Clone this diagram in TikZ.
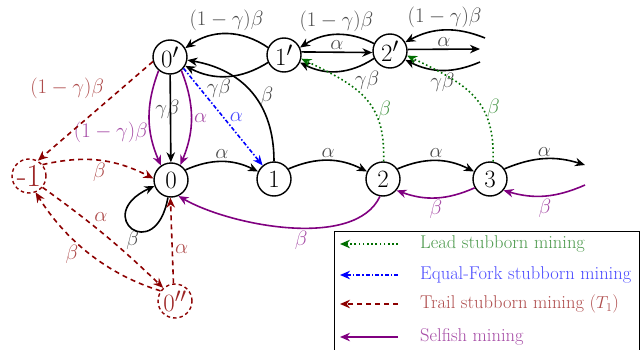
\documentclass[tikz,border=0pt]{standalone}
\usetikzlibrary{arrows.meta}
\definecolor{dgreen}{RGB}{0,110,0}
\definecolor{dred}{RGB}{140,0,0}
\definecolor{mpurple}{RGB}{128,0,128}
\definecolor{mblue}{RGB}{0,0,255}
\begin{document}
\begin{tikzpicture}[x=1pt,y=1pt,
  st/.style={circle,draw,line width=1.4pt,minimum size=34pt,inner sep=0pt,font=\fontsize{32}{32}\selectfont},
  dst/.style={st,draw=dred,dash pattern=on 3.5pt off 3pt,text=dred,text opacity=0.85},
  ed/.style={line width=1.6pt,-{Stealth[length=10pt,width=8.5pt]}},
  ged/.style={ed,dgreen,dash pattern=on 1.6pt off 2.6pt},
  bed/.style={ed,mblue,dash pattern=on 4pt off 2pt on 1.5pt off 2pt},
  ted/.style={ed,dred,dash pattern=on 5pt off 4pt},
  ped/.style={ed,mpurple},
  lab/.style={font=\fontsize{19.5}{19.5}\selectfont,text opacity=0.7,inner sep=2pt},
  leg/.style={anchor=west,font=\fontsize{18.5}{18.5}\selectfont,text opacity=0.7,inner sep=0pt}]
\useasboundingbox (0,0) rectangle (642,349);

% states
\node[st] (n0p) at (170,292) {$0'$};
\node[st] (n1p) at (284,294) {$1'$};
\node[st] (n2p) at (390,298) {$2'$};
\node[st] (n0) at (171,169) {$0$};
\node[st] (n1) at (274,170) {$1$};
\node[st] (n2) at (383,170) {$2$};
\node[st] (n3) at (490,170) {$3$};
\node[dst] (nm1) at (29,173) {-1};
\node[dst] (n0pp) at (175,48) {$0''$};

% free ends
\coordinate (c3o) at (585,184);
\coordinate (c3i) at (585,164);
\coordinate (c2a) at (485,311);
\coordinate (c2b) at (480,300);
\coordinate (c2c) at (480,287);

% black: upper chain
\draw[ed] (n1p.155) to[bend right=35] node[lab,above]{$(1-\gamma)\beta$} (n0p.30);
\draw[ed] (n1p.205) to[bend left=30] node[lab,below,pos=0.6]{$\gamma\beta$} (n0p.-30);
\draw[ed] (n1.90) to[out=90,in=-10,looseness=1.1] node[lab,right,pos=0.5,xshift=6pt,yshift=-3pt]{$\beta$} (n0p.-10);
\draw[ed] (n0p) -- node[lab,pos=0.4,xshift=-3pt]{$\gamma\beta$} (n0);
\draw[ed] (n2p.155) to[bend right=30] node[lab,above]{$(1-\gamma)\beta$} (n1p.25);
\draw[ed] (n1p.10) -- node[lab,above]{$\alpha$} (n2p.185);
\draw[ed] (n2p.205) to[bend left=30] node[lab,below right,pos=0.3]{$\gamma\beta$} (n1p.-25);
\draw[ed] (c2a) to[bend right=25] node[lab,above]{$(1-\gamma)\beta$} (n2p.30);
\draw[ed] (n2p.5) -- node[lab,above]{$\alpha$} (c2b);
\draw[ed] (c2c) to[bend left=25] node[lab,below]{$\gamma\beta$} (n2p.-30);

% black: lower chain
\draw[ed] (n0.35) to[bend left=25] node[lab,above]{$\alpha$} (n1.155);
\draw[ed] (n1.35) to[bend left=25] node[lab,above]{$\alpha$} (n2.155);
\draw[ed] (n2.35) to[bend left=25] node[lab,above]{$\alpha$} (n3.155);
\draw[ed] (n3.35) to[bend left=20] node[lab,above]{$\alpha$} (c3o);
\draw[ed] (n0.-100) .. controls +(-100:70) and +(205:70) .. node[lab,below,pos=0.5]{$\beta$} (n0.200);

% green (lead stubborn)
\draw[ged] (n2.88) to[out=88,in=-26,looseness=1.2] node[lab,dgreen,right,pos=0.4,xshift=4pt,yshift=-4pt]{$\beta$} (n1p.-12);
\draw[ged] (n3.80) to[out=88,in=-26,looseness=1.2] node[lab,dgreen,right,pos=0.4,xshift=4pt,yshift=-4pt]{$\beta$} (n2p.-15);

% blue (equal-fork)
\draw[bed] (n0p.-40) -- node[lab,mblue,right,pos=0.5,xshift=4pt]{$\alpha$} (n1.130);

% purple (selfish)
\draw[ped] (n0p.-130) to[bend right=22] node[lab,left,pos=0.65]{$(1-\gamma)\beta$} (n0.125);
\draw[ped] (n0p.-50) to[bend left=22] node[lab,right]{$\alpha$} (n0.58);
\draw[ped] (n2.-100) to[out=-115,in=-30,looseness=0.75] node[lab,below,pos=0.45]{$\beta$} (n0.-65);
\draw[ped] (n3.-150) to[bend left=22] node[lab,below]{$\beta$} (n2.-40);
\draw[ped] (c3i) to[bend left=20] node[lab,below]{$\beta$} (n3.-40);

% dark red (trail stubborn)
\draw[ted] (n0p.-165) -- node[lab,dred,above left,pos=0.4]{$(1-\gamma)\beta$} (nm1.60);
\draw[ted] (nm1.40) to[bend left=20] node[lab,dred,below]{$\beta$} (n0.175);
\draw[ted] (nm1.-40) to[bend left=4] node[lab,dred,above right,pos=0.38]{$\alpha$} (n0pp.132);
\draw[ted] (n0pp.145) to[out=163,in=-58,looseness=0.9] node[lab,dred,below left,pos=0.55,xshift=-2pt,yshift=6pt]{$\beta$} (nm1.-68);
\draw[ted] (n0pp.95) -- node[lab,dred,right,pos=0.4]{$\alpha$} (n0.-92);

% legend
\draw[line width=0.8pt] (334,118) rectangle (639,-10);
\coordinate (la1) at (398,105); \coordinate (lb1) at (340,105);
\coordinate (la2) at (398,74);  \coordinate (lb2) at (340,74);
\coordinate (la3) at (398,45);  \coordinate (lb3) at (340,45);
\coordinate (la4) at (398,12);  \coordinate (lb4) at (340,12);
\draw[ged] (la1) -- (lb1);
\draw[bed] (la2) -- (lb2);
\draw[ted] (la3) -- (lb3);
\draw[ped] (la4) -- (lb4);
\node[leg,text=dgreen] at (420,105) {Lead stubborn mining};
\node[leg,text=mblue] at (420,74) {Equal-Fork stubborn mining};
\node[leg,text=dred] at (420,45) {Trail stubborn mining ($T_1$)};
\node[leg,text=mpurple] at (420,12) {Selfish mining};
\end{tikzpicture}
\end{document}
